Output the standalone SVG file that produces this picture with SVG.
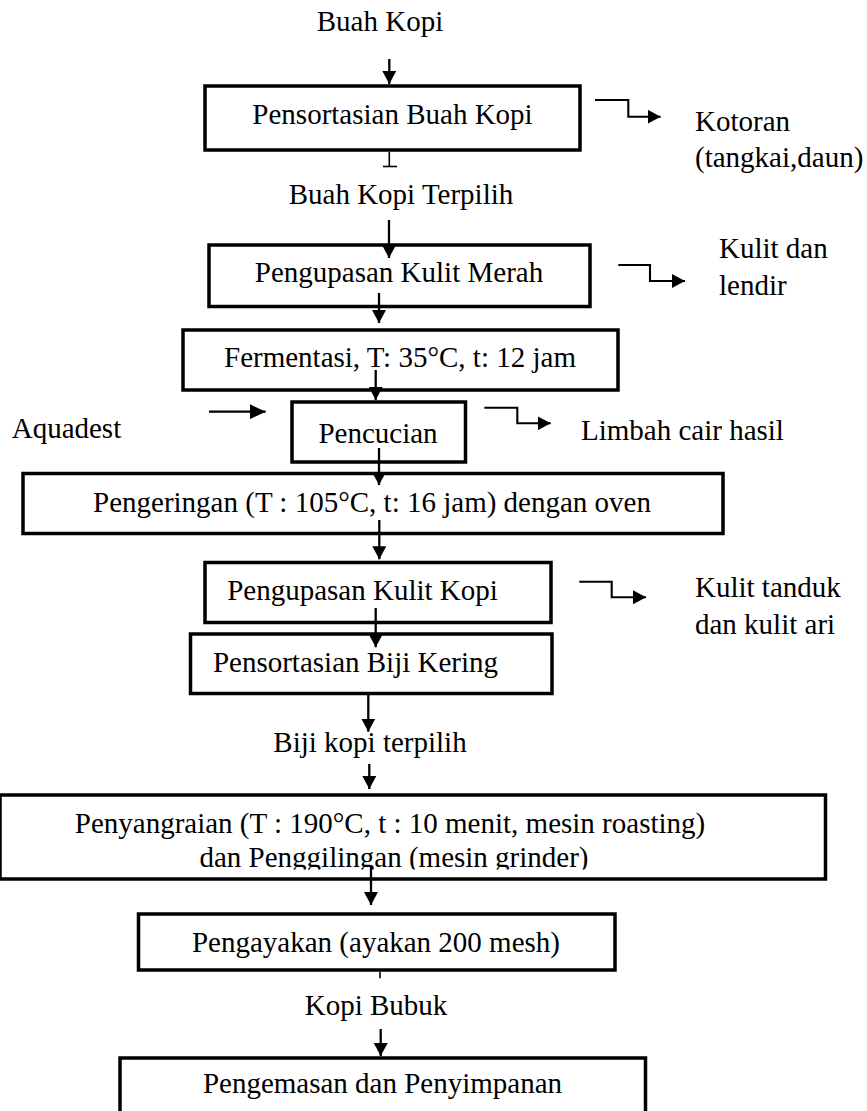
<svg xmlns="http://www.w3.org/2000/svg" width="867" height="1111" viewBox="0 0 867 1111">
<style>
  .box { fill: none; stroke: #000; stroke-width: 3.5; }
  .t { font-family: "Liberation Serif", "Times New Roman", serif; font-size: 29px; fill: #000; }
  .c { text-anchor: middle; }
  .s { text-anchor: start; }
  .ln { fill: none; stroke: #000; stroke-width: 2.3; }
  .el { fill: none; stroke: #000; stroke-width: 2.1; }
  .tk { fill: none; stroke: #000; stroke-width: 1.6; }
</style>
<defs>
  <marker id="ah" markerUnits="userSpaceOnUse" markerWidth="14" markerHeight="14" refX="13" refY="7" orient="auto">
    <path d="M0,0 L13,7 L0,14 z" fill="#000"/>
  </marker>
  <marker id="ahL" markerUnits="userSpaceOnUse" markerWidth="16" markerHeight="15" refX="16" refY="7.5" orient="auto">
    <path d="M0,0 L16,7.5 L0,15 z" fill="#000"/>
  </marker>
  <clipPath id="clipLine2">
    <rect x="0" y="840" width="867" height="29.5"/>
  </clipPath>
</defs>
<rect width="867" height="1111" fill="#fff"/>

<g id="connectors">
  <line class="ln" x1="389.3" y1="59" x2="389.3" y2="84" marker-end="url(#ah)"/>
  <line class="tk" x1="389.3" y1="152" x2="389.3" y2="166.5"/>
  <line class="tk" x1="383" y1="166.5" x2="397" y2="166.5"/>
  <line class="ln" x1="389" y1="220" x2="389" y2="258" marker-end="url(#ah)"/>
  <line class="ln" x1="379" y1="293" x2="379" y2="323" marker-end="url(#ah)"/>
  <line class="ln" x1="375.7" y1="370" x2="375.7" y2="400" marker-end="url(#ah)"/>
  <line class="ln" x1="209" y1="411.7" x2="265.7" y2="411.7" marker-end="url(#ahL)"/>
  <line class="ln" x1="379" y1="448" x2="379" y2="485" marker-end="url(#ah)"/>
  <line class="ln" x1="379.3" y1="520" x2="379.3" y2="559.3" marker-end="url(#ah)"/>
  <line class="ln" x1="375.7" y1="608" x2="375.7" y2="647.3" marker-end="url(#ah)"/>
  <line class="ln" x1="368.3" y1="695" x2="368.3" y2="731.7" marker-end="url(#ah)"/>
  <line class="ln" x1="369.3" y1="764" x2="369.3" y2="789" marker-end="url(#ah)"/>
  <line class="ln" x1="371" y1="865" x2="371" y2="905" marker-end="url(#ah)"/>
  <line class="tk" x1="380" y1="972" x2="380" y2="978.3"/>
  <line class="ln" x1="380.7" y1="1029" x2="380.7" y2="1056" marker-end="url(#ah)"/>
  <path class="el" d="M595,100 H628.3 V116.7 H660.7" marker-end="url(#ah)"/>
  <path class="el" d="M618.3,265 H650 V281 H685" marker-end="url(#ah)"/>
  <path class="el" d="M484.3,407.7 H517.3 V423.3 H550.7" marker-end="url(#ah)"/>
  <path class="el" d="M579.3,581.7 H611.7 V597.3 H646" marker-end="url(#ah)"/>
</g>

<g id="label-buah-kopi"><text class="t c" x="380" y="31">Buah Kopi</text></g>
<g id="node-pensortasian-buah">
  <rect class="box" x="205" y="86" width="375" height="64"/>
  <text class="t c" x="392.5" y="124">Pensortasian Buah Kopi</text>
</g>
<g id="label-kotoran">
  <text class="t s" x="695" y="131">Kotoran</text>
  <text class="t s" x="695" y="167">(tangkai,daun)</text>
</g>
<g id="label-terpilih"><text class="t c" x="401" y="204">Buah Kopi Terpilih</text></g>
<g id="node-pengupasan-merah">
  <rect class="box" x="209" y="245" width="381" height="61.5"/>
  <text class="t c" x="399" y="282">Pengupasan Kulit Merah</text>
</g>
<g id="label-kulit-lendir">
  <text class="t s" x="719" y="258">Kulit dan</text>
  <text class="t s" x="719" y="295">lendir</text>
</g>
<g id="node-fermentasi">
  <rect class="box" x="183" y="330" width="435" height="60"/>
  <text class="t c" x="400" y="367">Fermentasi, T: 35°C, t: 12 jam</text>
</g>
<g id="label-aquadest"><text class="t s" x="11.7" y="438">Aquadest</text></g>
<g id="node-pencucian">
  <rect class="box" x="292" y="402" width="173.5" height="60"/>
  <text class="t c" x="378" y="443">Pencucian</text>
</g>
<g id="label-limbah"><text class="t s" x="581" y="440">Limbah cair hasil</text></g>
<g id="node-pengeringan">
  <rect class="box" x="23" y="473.5" width="700" height="60"/>
  <text class="t c" x="372" y="512">Pengeringan (T : 105°C, t: 16 jam) dengan oven</text>
</g>
<g id="node-pengupasan-kopi">
  <rect class="box" x="205" y="562.5" width="346" height="60"/>
  <text class="t c" x="362.5" y="600">Pengupasan Kulit Kopi</text>
</g>
<g id="label-kulit-tanduk">
  <text class="t s" x="695" y="597">Kulit tanduk</text>
  <text class="t s" x="695" y="634">dan kulit ari</text>
</g>
<g id="node-pensortasian-biji">
  <rect class="box" x="190.5" y="634" width="361.5" height="59.5"/>
  <text class="t c" x="355.5" y="672">Pensortasian Biji Kering</text>
</g>
<g id="label-biji-terpilih"><text class="t c" x="370" y="752">Biji kopi terpilih</text></g>
<g id="node-penyangraian">
  <rect class="box" x="0" y="795" width="825.5" height="84"/>
  <text class="t c" x="390" y="833">Penyangraian (T : 190°C, t : 10 menit, mesin roasting)</text>
  <text class="t c" x="394" y="867" clip-path="url(#clipLine2)">dan Penggilingan (mesin grinder)</text>
</g>
<g id="node-pengayakan">
  <rect class="box" x="138.5" y="914" width="476.5" height="56"/>
  <text class="t c" x="376" y="952">Pengayakan (ayakan 200 mesh)</text>
</g>
<g id="label-kopi-bubuk"><text class="t c" x="376" y="1015">Kopi Bubuk</text></g>
<g id="node-pengemasan">
  <rect class="box" x="120" y="1058" width="525.5" height="80"/>
  <text class="t c" x="382.5" y="1093">Pengemasan dan Penyimpanan</text>
</g>
</svg>
